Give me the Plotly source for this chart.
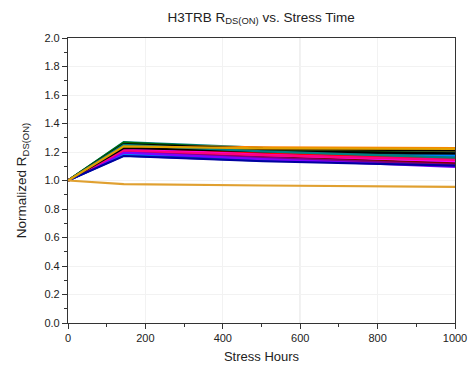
import plotly.graph_objects as go

stress_hours = [0, 144, 504, 1000]

series_names = [
    "S01", "S02", "S03", "S04", "S05", "S06", "S07", "S08", "S09", "S10",
    "S11", "S12", "S13", "S14", "S15", "S16", "S17", "S18", "S19", "S20",
    "S21", "S22", "S23", "S24",
]
series_colors = [
    "#008080", "#006400", "#008000", "#808000", "#FF8000", "#000000",
    "#004040", "#2E8B57", "#000080", "#0000FF", "#0040C0", "#0080FF",
    "#800000", "#800080", "#8000FF", "#FF0000", "#C00040", "#FF00FF",
    "#FF0080", "#000000", "#0000A0", "#008080", "#E0A000", "#E0A030",
]
series_values = [
    [1.0, 1.270, 1.230, 1.195],
    [1.0, 1.265, 1.220, 1.185],
    [1.0, 1.260, 1.210, 1.170],
    [1.0, 1.250, 1.220, 1.210],
    [1.0, 1.245, 1.232, 1.228],
    [1.0, 1.255, 1.222, 1.212],
    [1.0, 1.240, 1.200, 1.180],
    [1.0, 1.235, 1.195, 1.165],
    [1.0, 1.190, 1.150, 1.120],
    [1.0, 1.180, 1.150, 1.160],
    [1.0, 1.175, 1.140, 1.130],
    [1.0, 1.185, 1.170, 1.175],
    [1.0, 1.210, 1.170, 1.120],
    [1.0, 1.200, 1.160, 1.110],
    [1.0, 1.195, 1.150, 1.095],
    [1.0, 1.230, 1.190, 1.150],
    [1.0, 1.215, 1.180, 1.140],
    [1.0, 1.220, 1.180, 1.135],
    [1.0, 1.212, 1.178, 1.145],
    [1.0, 1.228, 1.205, 1.190],
    [1.0, 1.172, 1.135, 1.105],
    [1.0, 1.250, 1.205, 1.160],
    [1.0, 1.240, 1.225, 1.222],
    [1.0, 0.975, 0.965, 0.955],
]

fig = go.Figure()
for name, color, vals in zip(series_names, series_colors, series_values):
    fig.add_trace(go.Scatter(
        x=stress_hours, y=vals, mode="lines", name=name,
        line=dict(color=color, width=2.2), showlegend=False,
    ))

font_family = "Liberation Sans, Arial, sans-serif"
fig.update_layout(
    width=470, height=374,
    margin=dict(l=68, r=15, t=38, b=51, autoexpand=False),
    paper_bgcolor="white", plot_bgcolor="white",
    font=dict(family=font_family, size=11, color="#222"),
    title=dict(
        text="H3TRB R<sub>DS(ON)</sub> vs. Stress Time",
        x=0.5555, xanchor="center", y=0.955, yanchor="middle",
        font=dict(size=13.5, color="#222"),
    ),
    shapes=[dict(type="line", xref="x", yref="paper", x0=600, x1=600,
                 y0=0, y1=1, line=dict(color="#cfcfcf", width=1), layer="below")],
)
fig.update_xaxes(
    range=[0, 1000], dtick=200, tick0=0, automargin=False,
    showline=True, linecolor="#333", linewidth=1.2, mirror=True,
    ticks="outside", ticklen=5, tickcolor="#333",
    minor=dict(dtick=100, ticks="outside", ticklen=3, tickcolor="#333", showgrid=False),
    showgrid=True, gridcolor="#f2f2f2", zeroline=False,
    title=dict(text="Stress Hours", font=dict(size=13), standoff=8),
    tickfont=dict(size=11),
)
fig.update_yaxes(
    range=[0, 2.0], dtick=0.2, tick0=0, tickformat=".1f", automargin=False,
    showline=True, linecolor="#333", linewidth=1.2, mirror=True,
    ticks="outside", ticklen=5, tickcolor="#333",
    minor=dict(dtick=0.1, ticks="outside", ticklen=3, tickcolor="#333", showgrid=False),
    showgrid=True, gridcolor="#f2f2f2", zeroline=False,
    title=dict(text="Normalized R<sub>DS(ON)</sub>", font=dict(size=13.5), standoff=14),
    tickfont=dict(size=11),
)

fig.write_html("out.html")
